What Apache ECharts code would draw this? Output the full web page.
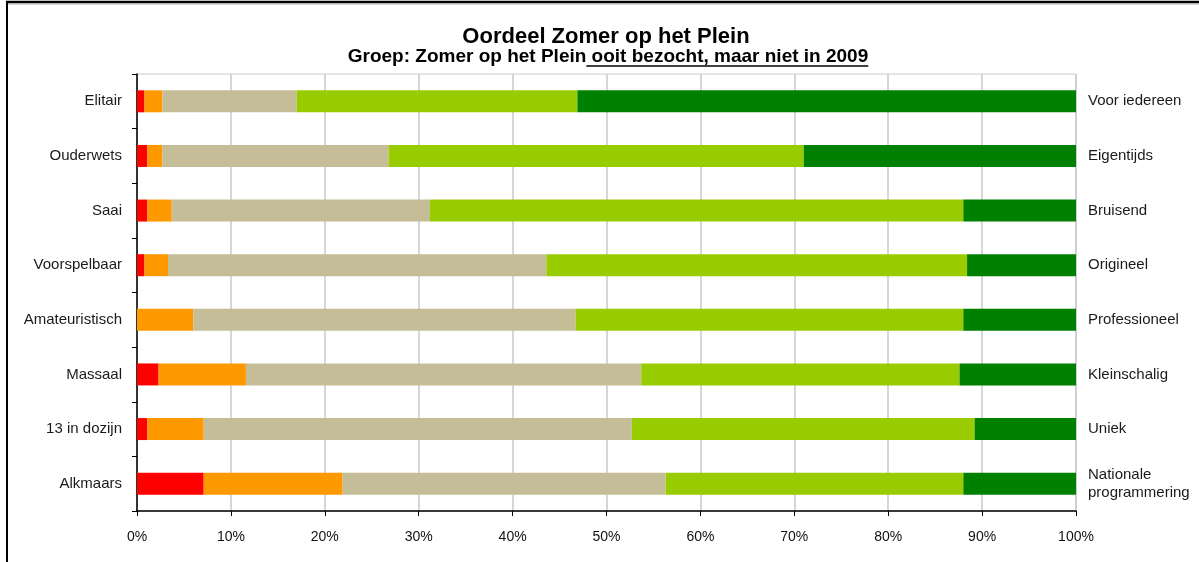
<!DOCTYPE html>
<html>
<head>
<meta charset="utf-8">
<script src="https://cdn.jsdelivr.net/npm/echarts@6/dist/echarts.min.js"></script>
<style>
html,body{
    margin:0;
    padding:0;
    background:#fff;
}
#chart{
    width:1199px;
    height:562px;
}
</style>
</head>
<body>
<div id="chart"></div>
<script>
// categorieen (links) en tegenpolen (rechts)
var categories=['Elitair','Ouderwets','Saai','Voorspelbaar','Amateuristisch','Massaal','13 in dozijn','Alkmaars'];
var rightLabels=['Voor iedereen','Eigentijds','Bruisend','Origineel','Professioneel','Kleinschalig','Uniek','Nationale\nprogrammering'];

// percentages per schaalpunt
var red=[0.8,1.1,1.1,0.8,0,2.3,1.1,7.1];
var orange=[1.9,1.6,2.6,2.5,6.0,9.3,6.0,14.8];
var beige=[14.3,24.1,27.5,40.3,40.7,42.1,45.6,34.4];
var lightGreen=[29.9,44.2,56.8,44.8,41.3,33.9,36.5,31.7];
var darkGreen=[53.1,29.0,12.0,11.6,12.0,12.4,10.8,12.0];

var xTicks=[0,10,20,30,40,50,60,70,80,90,100];

var fontFamily='"Liberation Sans", Arial, sans-serif';
var titleText='Oordeel Zomer op het Plein';
var subPart1='Groep: Zomer op het Plein';
var subPart2=' ooit bezocht, maar niet in 2009';

// breedte van de ondertitel meten voor de onderstreping
var ctx=document.createElement('canvas').getContext('2d');
var subFont='bold 19px '+fontFamily;
ctx.font=subFont;
var w1=ctx.measureText(subPart1).width;
var w2=ctx.measureText(subPart2).width;
var subStart=608-(w1+w2)/2;

function bar(name,data,color){
    return {
        name:name,
        type:'bar',
        stack:'totaal',
        barWidth:22,
        data:data,
        itemStyle:{color:color},
        emphasis:{disabled:true}
    };
}

var chart=echarts.init(document.getElementById('chart'));
chart.setOption({
    animation:false,
    backgroundColor:'#fff',
    textStyle:{fontFamily:fontFamily},
    grid:{
        left:137,
        right:123,
        top:74,
        bottom:51,
        show:true,
        borderColor:'#c8c8c8',
        borderWidth:1
    },
    xAxis:{
        type:'value',
        min:xTicks[0],
        max:xTicks[xTicks.length-1],
        interval:10,
        axisLine:{show:true,lineStyle:{color:'#000',width:1.5}},
        axisTick:{show:true,length:5,lineStyle:{color:'#000'}},
        axisLabel:{
            formatter:'{value}%',
            color:'#111',
            fontSize:14,
            margin:19
        },
        splitLine:{show:true,lineStyle:{color:'#c8c8c8',width:1.5}}
    },
    yAxis:[{
        type:'category',
        data:categories,
        inverse:true,
        axisLine:{show:true,lineStyle:{color:'#000',width:1.5}},
        axisTick:{show:true,length:5,lineStyle:{color:'#000'}},
        axisLabel:{color:'#1a1a1a',fontSize:15,margin:15},
        splitLine:{show:false}
    },{
        type:'category',
        data:rightLabels,
        inverse:true,
        position:'right',
        axisLine:{show:false},
        axisTick:{show:false},
        axisLabel:{color:'#1a1a1a',fontSize:15,margin:12,align:'left',lineHeight:18},
        splitLine:{show:false}
    }],
    series:[
        bar('1',red,'#ff0000'),
        bar('2',orange,'#ff9900'),
        bar('3',beige,'#c4bd97'),
        bar('4',lightGreen,'#99cc00'),
        bar('5',darkGreen,'#008000')
    ],
    graphic:[
        // kader
        {type:'line',shape:{x1:6,y1:2,x2:1199,y2:2},style:{stroke:'#000',lineWidth:2.5}},
        {type:'line',shape:{x1:6,y1:4,x2:1199,y2:4},style:{stroke:'#aaa',lineWidth:1}},
        {type:'line',shape:{x1:7,y1:1,x2:7,y2:562},style:{stroke:'#000',lineWidth:2}},
        // titel
        {type:'text',x:606,y:37,style:{text:titleText,font:'bold 22px '+fontFamily,fill:'#000',align:'center',verticalAlign:'middle'}},
        {type:'text',x:subStart,y:57,style:{text:subPart1,font:subFont,fill:'#000',align:'left',verticalAlign:'middle'}},
        {type:'text',x:subStart+w1,y:57,style:{text:subPart2,font:subFont,fill:'#000',align:'left',verticalAlign:'middle'}},
        {type:'line',shape:{x1:subStart+w1,y1:66,x2:subStart+w1+w2,y2:66},style:{stroke:'#000',lineWidth:1.5}}
    ]
});
</script>
</body>
</html>
